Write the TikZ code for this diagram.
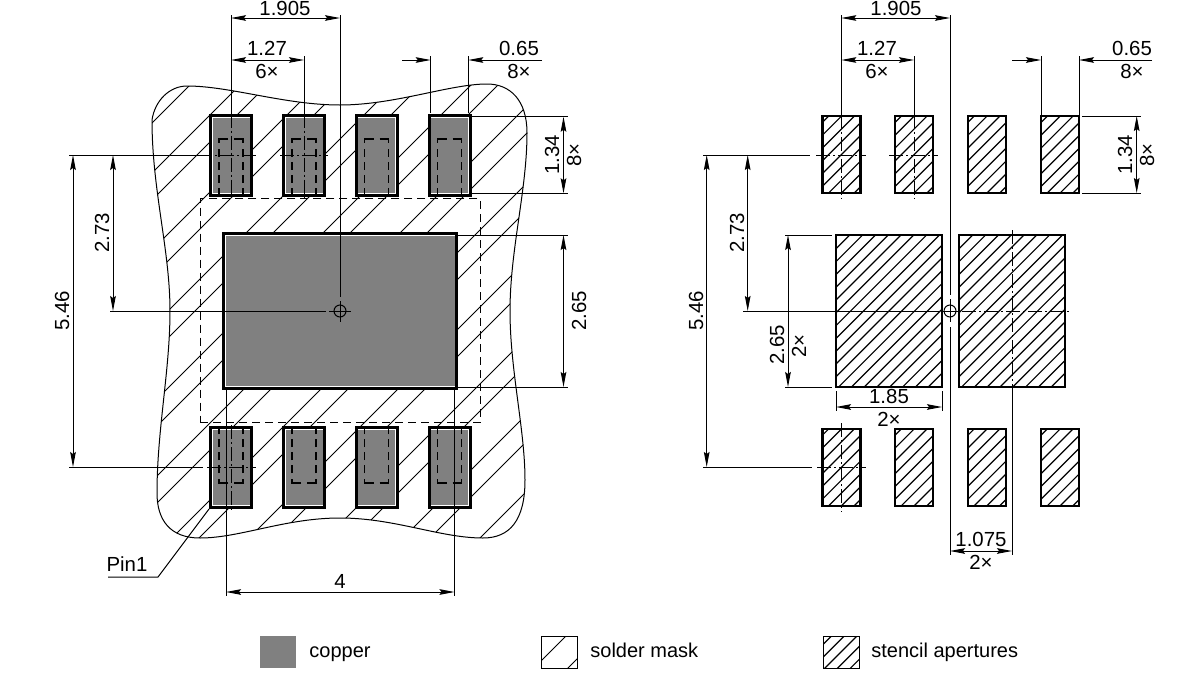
\documentclass[tikz,border=0pt]{standalone}
\usepackage{fontspec}
\setmainfont{Liberation Sans}
\usetikzlibrary{arrows.meta}
\def\maskoutline{(152,120) .. controls (155,100) and (170,86) .. (187,86)
	.. controls (230,86) and (285,105) .. (340,105)
	.. controls (395,105) and (450,84) .. (487,84)
	.. controls (510,84) and (527,100) .. (527,133)
	.. controls (527,190) and (510,250) .. (510,311)
	.. controls (510,370) and (525,430) .. (525,480)
	.. controls (525,520) and (510,538) .. (483,538)
	.. controls (440,538) and (395,518) .. (340,518)
	.. controls (285,518) and (240,538) .. (200,538)
	.. controls (170,538) and (157,520) .. (157,493)
	.. controls (157,430) and (170,370) .. (170,311)
	.. controls (170,250) and (152,190) .. (152,120) -- cycle}
\definecolor{coppergray}{HTML}{808080}
\tikzset{
	hair/.style={line width=0.5pt},
	hatchline/.style={line width=0.6pt},
	hidden/.style={line width=0.6pt, dash pattern=on 4pt off 2.5pt},
	solidhidden/.style={line width=0.6pt},
	centre/.style={line width=0.5pt, dash pattern=on 7pt off 1.5pt on 1pt off 1.5pt},
	dimline/.style={hair, {Stealth[length=7.5pt,width=2.8pt,inset=1pt]}-{Stealth[length=7.5pt,width=2.8pt,inset=1pt]}},
	dimout/.style={hair, -{Stealth[length=7.5pt,width=2.8pt,inset=1pt]}},
	dimtext/.style={font=\fontsize{10.2}{11}\selectfont, inner sep=0pt},
	vdimtext/.style={dimtext, rotate=90},
	legtext/.style={font=\fontsize{10}{11}\selectfont, inner sep=0pt, anchor=base west},
	maskpad/.style={draw, line width=1.5pt, fill=white, minimum width=20.5pt, minimum height=40pt, inner sep=0pt},
	copper/.style={fill=coppergray, minimum width=18.5pt, minimum height=37.5pt, inner sep=0pt},
	stencil/.style={draw, line width=1.25pt, fill=white, inner sep=0pt, minimum width=#1,
		path picture={
			\foreach \c in {-256,-243.2,...,256} {
				\draw[hatchline] (\c+150,-150) -- (\c-150,150);
			}
		}},
	stencil/.default=19pt,
	smallst/.style={stencil, minimum height=38.5pt},
	bigst/.style={stencil=53pt, minimum height=76pt},
	legbox/.style={draw, hair, minimum width=18pt, minimum height=16pt, inner sep=0pt},
	origin/.style={draw, hair, circle, minimum size=6pt, inner sep=0pt},
}

\begin{document}
\begin{tikzpicture}[x=0.5pt,y=-0.5pt]
\useasboundingbox (0,0) rectangle (1200,675);

%Solder mask
\begin{scope}
	\clip \maskoutline;
	\foreach \k in {-3,...,7} {
		\draw[hair] ({479+77*\k},0) -- (0,{479+77*\k});
		\draw[hair] ({506+77*\k},0) -- (0,{506+77*\k});
	}
\end{scope}
\draw[hair] \maskoutline;
\node[draw, hidden, minimum width=140pt, minimum height=112pt, inner sep=0pt] (maskopen) at (340.3,310.7) {};

%Place the pads
\foreach \i/\x in {0/231,1/304,2/376.5,3/449.5} {
	\node[maskpad] (t\i) at (\x,155) {};
	\node[copper] (tc\i) at (\x,155) {};
	\node[maskpad] (b\i) at (\x,467.5) {};
	\node[copper] (bc\i) at (\x,467.5) {};
	\foreach \s in {-1,1} {
		\draw[solidhidden] (\x+\s*3,139) -- (\x+\s*12,139) -- (\x+\s*12,143);
		\draw[hidden] (\x+\s*12,149) -- (\x+\s*12,199);
		\draw[solidhidden] (\x+\s*3,483) -- (\x+\s*12,483) -- (\x+\s*12,479);
		\draw[hidden] (\x+\s*12,473) -- (\x+\s*12,423);
	}
}
\node[maskpad, minimum width=116.5pt, minimum height=77.5pt] (epad) at (340,311) {};
\node[copper, minimum width=114.5pt, minimum height=75pt] (ecopper) at (340,311) {};

%Centre lines on the left
\draw[hair] (231,15) -- (t0.north);
\draw[centre] (t0.north) -- (231,197);
\draw[hair] (304,56) -- (t1.north);
\draw[centre] (t1.north) -- (304,197);
\draw[centre] (231,425) -- (231,512);
\draw[hair] (69,155) -- (198,155);
\draw[centre] (198,155) -- (256,155);
\draw[centre] (280,155) -- (328,155);
\draw[hair] (69,467) -- (203,467);
\draw[centre] (207,467) -- (256,467);
\node[origin] (porigin) at (340,311) {};
\draw[hair] (340,15) -- (340,297);
\draw[hair] (340,301) -- (340,322);
\draw[hair] (110,311) -- (326,311);
\draw[hair] (329,311) -- (351,311);
\draw[hair] (430.7,56) -- (430.7,113);
\draw[hair] (468.3,56) -- (468.3,113);
\draw[hair] (471,116.7) -- (568,116.7);
\draw[hair] (471,193.3) -- (568,193.3);
\draw[hair] (458,235) -- (568,235);
\draw[hair] (458,387) -- (568,387);
\draw[hair] (226,390) -- (226,596);
\draw[hair] (454.5,390) -- (454.5,596);

%Dimensions on the left
\draw[dimline] (231,18) -- (340,18);
\node[dimtext] (la) at (285,8) {1.905};
\draw[dimline] (231,60) -- (304,60);
\node[dimtext] (lb) at (267,48) {1.27};
\node[dimtext] (lc) at (267,71) {6×};
\draw[dimout] (402,60) -- (430.7,60);
\draw[dimout] (542,60) -- (468.3,60);
\node[dimtext] (ld) at (519,48) {0.65};
\node[dimtext] (le) at (519,71) {8×};
\draw[dimline] (563.5,116.7) -- (563.5,193.3);
\node[vdimtext] (lf) at (552,155) {1.34};
\node[vdimtext] (lg) at (574,155) {8×};
\draw[dimline] (563.5,235) -- (563.5,387);
\node[vdimtext] (lh) at (579,311) {2.65};
\draw[dimline] (113,155) -- (113,311);
\node[vdimtext] (li) at (102,233) {2.73};
\draw[dimline] (73,155) -- (73,467);
\node[vdimtext] (lj) at (62,311) {5.46};
\draw[dimline] (226,592) -- (454.5,592);
\node[dimtext] (lk) at (340,581) {4};
\node[dimtext] (pinone) at (127,564) {Pin1};
\coordinate (pinbend) at (158,577);
\draw[hair] (108,577) -- (pinbend) -- (b0.south west);

%Place the stencil apertures
\foreach \i/\x in {0/841.3,1/914,2/986.8,3/1060} {
	\node[smallst] (st\i) at (\x,154.7) {};
	\node[smallst] (sb\i) at (\x,467.5) {};
}
\node[bigst] (sl) at (889,311) {};
\node[bigst] (sr) at (1012,311) {};

%Centre lines on the right
\draw[hair] (841.3,15) -- (st0.north);
\draw[centre] (st0.north) -- (841.3,198);
\draw[hair] (914,56) -- (st1.north);
\draw[centre] (st1.north) -- (914,198);
\draw[centre] (841.3,423) -- (841.3,512);
\draw[hair] (703,155) -- (810,155);
\draw[centre] (816,155) -- (866,155);
\draw[centre] (889,155) -- (938,155);
\draw[hair] (703,467) -- (812,467);
\draw[centre] (817,467) -- (866,467);
\node[origin] (sorigin) at (950,311) {};
\draw[hair] (950,15) -- (950,295);
\draw[hair] (950,299) -- (950,322);
\draw[hair] (950,327) -- (950,555);
\draw[hair] (743,311) -- (940,311);
\draw[hair] (941,311) -- (959,311);
\draw[centre] (962,311) -- (1070,311);
\draw[centre] (1012,230) -- (1012,397);
\draw[hair] (1012,397) -- (1012,555);
\draw[hair] (1041,56) -- (1041,116);
\draw[hair] (1079,56) -- (1079,116);
\draw[hair] (1082,116) -- (1141,116);
\draw[hair] (1082,193) -- (1141,193);
\draw[hair] (785,235) -- (832,235);
\draw[hair] (785,387) -- (832,387);
\draw[hair] (836,391) -- (836,411);
\draw[hair] (942,391) -- (942,411);

%Dimensions on the right
\draw[dimline] (841.3,18) -- (950,18);
\node[dimtext] (ra) at (896,8) {1.905};
\draw[dimline] (841.3,60) -- (914,60);
\node[dimtext] (rb) at (877,48) {1.27};
\node[dimtext] (rc) at (877,71) {6×};
\draw[dimout] (1012,60) -- (1041,60);
\draw[dimout] (1152,60) -- (1079,60);
\node[dimtext] (rd) at (1132,48) {0.65};
\node[dimtext] (re) at (1132,71) {8×};
\draw[dimline] (1136.7,116) -- (1136.7,193);
\node[vdimtext] (rf) at (1125,155) {1.34};
\node[vdimtext] (rg) at (1147,155) {8×};
\draw[dimline] (747.7,155) -- (747.7,311);
\node[vdimtext] (ri) at (737,233) {2.73};
\draw[dimline] (706.7,155) -- (706.7,467);
\node[vdimtext] (rj) at (696,311) {5.46};
\draw[dimline] (788,235) -- (788,387);
\node[vdimtext] (rh) at (777,345) {2.65};
\node[vdimtext] (rk) at (799,346) {2×};
\draw[dimline] (836,407) -- (942,407);
\node[dimtext] (rl) at (889,396) {1.85};
\node[dimtext] (rm) at (889,419) {2×};
\draw[dimline] (950,551) -- (1012,551);
\node[dimtext] (rn) at (981,539) {1.075};
\node[dimtext] (ro) at (981,562) {2×};

%Legend
\node[legbox, fill=coppergray, draw=none] (legcopper) at (278,652) {};
\node[legtext] (tcopper) at (309,657) {copper};
\node[legbox, path picture={
	\foreach \c in {-9,25} {
		\draw[hair] (\c+40,-40) -- (\c-40,40);
	}
}] (legmask) at (559,652) {};
\node[legtext] (tmask) at (590,657) {solder mask};
\node[stencil=18pt, minimum height=16pt, hair] (legstencil) at (841,652) {};
\node[legtext] (tstencil) at (871,657) {stencil apertures};

\end{tikzpicture}
\end{document}
